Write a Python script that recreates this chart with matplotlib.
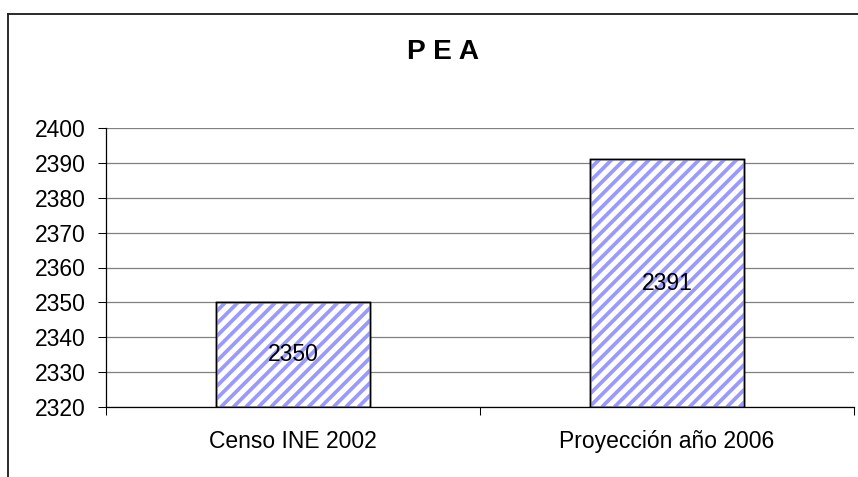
import matplotlib
matplotlib.use("Agg")
import numpy as np
import matplotlib.pyplot as plt
from matplotlib.lines import Line2D
from matplotlib.collections import LineCollection
from matplotlib.transforms import IdentityTransform

# data
categories = ["Censo INE 2002", "Proyección año 2006"]
values = [2350, 2391]
y_ticks = [2320, 2330, 2340, 2350, 2360, 2370, 2380, 2390, 2400]
title = "P E A"

W, H, DPI = 858, 477, 75
plt.rcParams['font.family'] = ['Liberation Sans', 'DejaVu Sans']
FS = 22

fig = plt.figure(figsize=(W / DPI, H / DPI), dpi=DPI)

# plot area in pixel coords of the reference
left, right, top, bottom = 106, 854, 128, 407
ax = fig.add_axes([left / W, 1 - bottom / H, (right - left) / W, (bottom - top) / H])

x = list(range(len(categories)))
bars = ax.bar(x, [v - y_ticks[0] for v in values], bottom=y_ticks[0], width=0.41,
              color='white', edgecolor='black', linewidth=1.4, zorder=3)

for xi, v in zip(x, values):
    ax.text(xi, (v + y_ticks[0]) / 2, str(v), ha='center', va='center',
            fontsize=FS, color='black', zorder=5)

ax.set_xlim(-0.5, len(categories) - 0.5)
ax.set_ylim(y_ticks[0], y_ticks[-1])
ax.set_yticks(y_ticks)
ax.set_yticklabels([str(t) for t in y_ticks], fontsize=FS)
ax.set_xticks(x)
ax.set_xticklabels(categories, fontsize=FS)
ax.set_xticks([i - 0.5 for i in range(len(categories) + 1)], minor=True)
ax.tick_params(axis='x', which='major', length=0, pad=22)
ax.tick_params(axis='x', which='minor', length=7.5, width=1, color='black')
ax.tick_params(axis='y', length=7.5, width=1, color='black', pad=12)

ax.yaxis.grid(True, color='#808080', linewidth=1.2, zorder=0)
ax.set_axisbelow(True)
for s in ['top', 'right']:
    ax.spines[s].set_visible(False)
for s in ['left', 'bottom']:
    ax.spines[s].set_color('black')
    ax.spines[s].set_linewidth(1.2)
    ax.spines[s].set_zorder(6)

# diagonal blue stripes inside each bar, drawn in pixel space
fig.canvas.draw()
period = 12.5
for b in bars:
    ext = b.get_window_extent()
    segs = []
    span = ext.width + ext.height
    for c in np.arange(-span, span, period):
        x0 = ext.x0 + c
        segs.append([(x0, ext.y0), (x0 + span, ext.y0 + span)])
    lc = LineCollection(segs, colors='#9999ff', linewidths=3.6,
                        transform=IdentityTransform(), zorder=3.5)
    ax.add_collection(lc, autolim=False)
    lc.set_clip_path(None)
    lc.set_clip_box(ext)
    lc.set_clip_on(True)
    # redraw the black outline on top
    ax.bar(b.get_x() + b.get_width() / 2, b.get_height(), bottom=b.get_y(),
           width=b.get_width(), fill=False, edgecolor='black', linewidth=1.4, zorder=4)

fig.text(443 / W, 1 - 52 / H, title, ha='center', va='center',
         fontsize=27, fontweight='bold')

# outer chart border (top and left edges visible)
fig.add_artist(Line2D([8 / W, 1], [1 - 14 / H, 1 - 14 / H], color='#222222', linewidth=1.8))
fig.add_artist(Line2D([8 / W, 8 / W], [0, 1 - 14 / H], color='#222222', linewidth=1.8))

fig.savefig("out.png", dpi=DPI)
